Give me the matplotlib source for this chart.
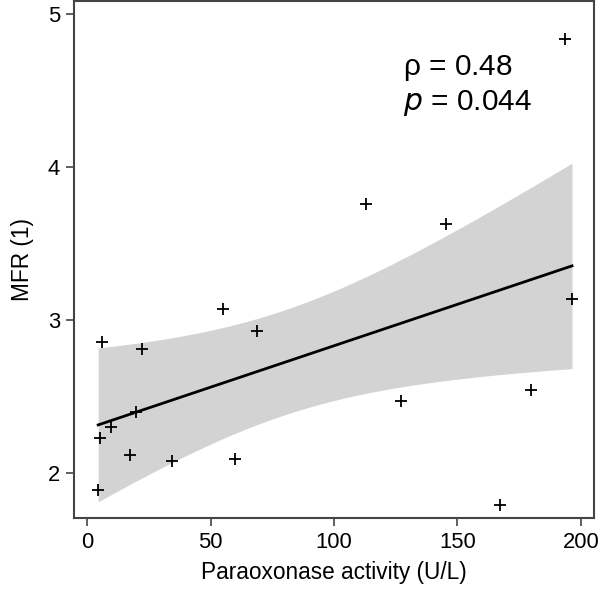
import numpy as np
import matplotlib
matplotlib.use('Agg')
import matplotlib.pyplot as plt

plt.rcParams['font.family'] = ['Liberation Sans', 'DejaVu Sans']

# paraoxonase activity (U/L) and MFR
pon = [4.5, 5.3, 6.1, 9.7, 17.4, 19.8, 22.3, 34.4, 55.1, 59.9,
       68.8, 113.0, 127.1, 145.3, 167.2, 179.8, 193.5, 196.4]
mfr = [1.89, 2.23, 2.86, 2.30, 2.12, 2.40, 2.81, 2.08, 3.07, 2.09,
       2.93, 3.76, 2.47, 3.63, 1.79, 2.54, 4.84, 3.14]
xticks = [0, 50, 100, 150, 200]
yticks = [2, 3, 4, 5]

x = np.array(pon)
y = np.array(mfr)
n = len(x)
b1, b0 = np.polyfit(x, y, 1)
resid = y - (b0 + b1 * x)
s = np.sqrt(np.sum(resid ** 2) / (n - 2))
t = 2.12  # t(0.975, 16)
xs = np.linspace(x.min(), x.max(), 200)
fit = b0 + b1 * xs
se = s * np.sqrt(1 / n + (xs - x.mean()) ** 2 / np.sum((x - x.mean()) ** 2))

fig = plt.figure(figsize=(6, 5.95), dpi=100)
ax = fig.add_axes([0.1233, 0.1294, 0.8667, 0.8686])

ax.fill_between(xs, fit - t * se, fit + t * se, color='#d3d3d3', lw=0)
ax.plot(xs, fit, color='black', lw=2)
ax.scatter(x, y, marker='+', s=80, color='black', linewidths=1.3, zorder=3)

ax.text(0.633, 0.857, r'$\mathregular{\rho}$ = 0.48', transform=ax.transAxes,
        fontsize=21.5, va='baseline')
ax.text(0.633, 0.789, '$\\it{p}$ = 0.044', transform=ax.transAxes,
        fontsize=21.5, va='baseline')

ax.set_xlim(-5.3, 205.3)
ax.set_ylim(1.706, 5.085)
ax.set_xticks(xticks)
ax.set_yticks(yticks)
ax.tick_params(labelsize=15.8, length=6, width=1.2, color='#444444', pad=4)
ax.set_xlabel('Paraoxonase activity (U/L)', fontsize=16.3, labelpad=6)
ax.set_ylabel('MFR (1)', fontsize=16.3, labelpad=10)
for sp in ax.spines.values():
    sp.set_color('#444444')
    sp.set_linewidth(1.5)

fig.savefig('out.png', dpi=100)
